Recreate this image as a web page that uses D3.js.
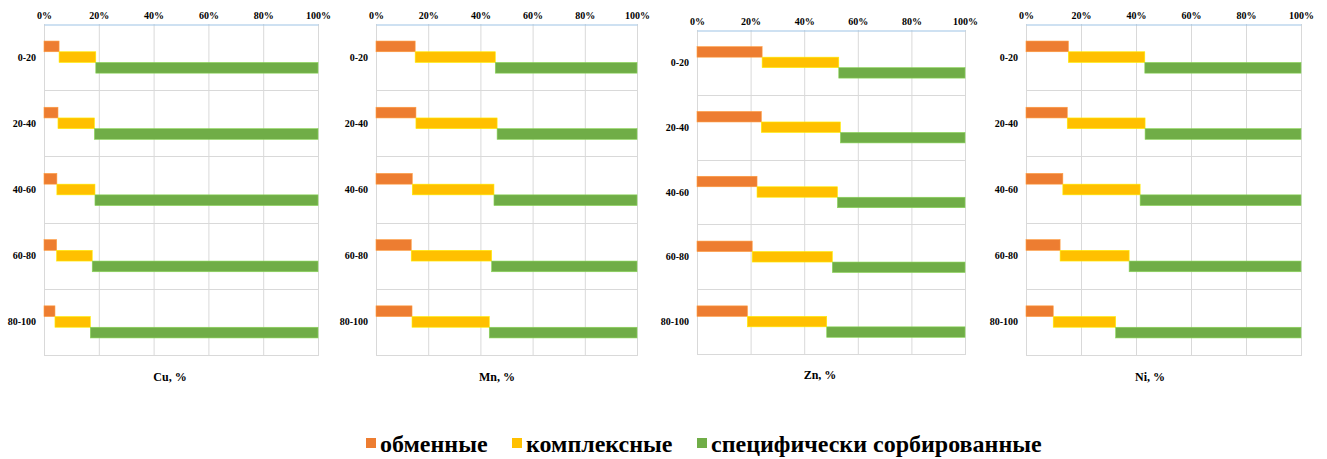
<!DOCTYPE html>
<html>
<head>
<meta charset="utf-8">
<script src="https://cdn.jsdelivr.net/npm/d3@7"></script>
</head>
<body style="margin:0; background:#fff">
<script>
  // depth intervals, cm
  const categories = ['0-20', '20-40', '40-60', '60-80', '80-100'];
  const seriesNames = ['обменные', 'комплексные', 'специфически сорбированные'];
  const seriesKeys = ['exch', 'complex', 'specific'];
  const colors = ['#ED7D31', '#FFC000', '#70AD47'];
  const tickValues = [0, 20, 40, 60, 80, 100];

  // shares of each form, %
  const cuExch = [5.5, 5.1, 4.7, 4.6, 4.0];
  const cuComplex = [13.4, 13.3, 13.9, 13.0, 12.9];
  const cuSpecific = [81.1, 81.6, 81.4, 82.4, 83.1];

  const mnExch = [15.0, 15.3, 13.9, 13.5, 13.8];
  const mnComplex = [30.7, 31.1, 31.3, 30.8, 29.6];
  const mnSpecific = [54.3, 53.6, 54.8, 55.7, 56.6];

  const znExch = [24.3, 24.0, 22.4, 20.6, 18.8];
  const znComplex = [28.6, 29.5, 30.0, 29.9, 29.6];
  const znSpecific = [47.1, 46.5, 47.6, 49.5, 51.6];

  const niExch = [15.4, 15.0, 13.4, 12.4, 9.9];
  const niComplex = [27.8, 28.3, 28.1, 25.1, 22.7];
  const niSpecific = [56.8, 56.7, 58.5, 62.5, 67.4];

  const elements = [
    { title: 'Cu, %', exch: cuExch, complex: cuComplex, specific: cuSpecific },
    { title: 'Mn, %', exch: mnExch, complex: mnComplex, specific: mnSpecific },
    { title: 'Zn, %', exch: znExch, complex: znComplex, specific: znSpecific },
    { title: 'Ni, %', exch: niExch, complex: niComplex, specific: niSpecific }
  ];

  // panel layout (plot areas)
  const panels = [
    { left: 44, right: 318, top: 24, bottom: 355, titleX: 170, titleY: 381 },
    { left: 376, right: 637, top: 24, bottom: 355, titleX: 497, titleY: 381 },
    { left: 697, right: 965, top: 30, bottom: 354, titleX: 820, titleY: 379 },
    { left: 1026, right: 1301, top: 24, bottom: 355, titleX: 1150, titleY: 381 }
  ];

  const svg = d3.select('body').append('svg')
    .attr('width', 1327)
    .attr('height', 459)
    .attr('font-family', 'Liberation Serif');

  const stack = d3.stack().keys(seriesKeys);

  elements.forEach((el, pi) => {
    const p = panels[pi];

    const rows = categories.map((c, i) => ({
      cat: c,
      exch: el.exch[i],
      complex: el.complex[i],
      specific: el.specific[i]
    }));
    const stacked = stack(rows);

    const x = d3.scaleLinear().domain([0, 100]).range([p.left, p.right]);
    const yRow = d3.scaleBand().domain(categories).range([p.top, p.bottom]);
    const yBar = d3.scaleBand().domain(categories)
      .range([p.top, p.bottom])
      .paddingInner(0.515)
      .paddingOuter(0.2575);
    const ySub = d3.scaleBand().domain(seriesKeys).range([0, yBar.bandwidth()]);

    const g = svg.append('g');

    // vertical gridlines
    g.append('g').selectAll('line')
      .data(tickValues)
      .join('line')
      .attr('x1', d => x(d) + 0.5)
      .attr('x2', d => x(d) + 0.5)
      .attr('y1', p.top)
      .attr('y2', p.bottom)
      .attr('stroke', '#d9d9d9')
      .attr('stroke-width', 1);

    // row separators
    g.append('g').selectAll('line')
      .data(categories)
      .join('line')
      .attr('x1', p.left)
      .attr('x2', p.right + 1)
      .attr('y1', d => Math.round(yRow(d) + yRow.bandwidth()) + 0.5)
      .attr('y2', d => Math.round(yRow(d) + yRow.bandwidth()) + 0.5)
      .attr('stroke', '#d9d9d9')
      .attr('stroke-width', 1);

    // bars
    stacked.forEach((s, si) => {
      g.append('g').selectAll('rect')
        .data(s)
        .join('rect')
        .attr('x', d => x(d[0]))
        .attr('width', d => x(d[1]) - x(d[0]))
        .attr('y', d => yBar(d.data.cat) + ySub(s.key))
        .attr('height', ySub.bandwidth())
        .attr('fill', colors[si])
        .attr('stroke', d3.color(colors[si]).brighter(0.6))
        .attr('stroke-width', 0.6);
    });

    // top axis
    const axis = d3.axisTop(x)
      .tickValues(tickValues)
      .tickFormat(d => d + '%')
      .tickSize(0)
      .tickPadding(6);
    const ax = g.append('g')
      .attr('transform', `translate(0, ${p.top + 0.5})`)
      .call(axis)
      .attr('font-family', 'Liberation Serif')
      .attr('font-size', 10);
    ax.select('.domain').attr('stroke', '#9DC3E6').attr('stroke-width', 1.2);

    // category labels
    g.append('g').selectAll('text')
      .data(categories)
      .join('text')
      .attr('x', p.left - 8)
      .attr('y', d => yRow(d) + yRow.bandwidth() / 2)
      .attr('dy', '0.35em')
      .attr('text-anchor', 'end')
      .style('font-size', '10px')
      .text(d => d);

    // axis title
    g.append('text')
      .attr('x', p.titleX)
      .attr('y', p.titleY)
      .attr('text-anchor', 'middle')
      .style('font-size', '12px')
      .text(el.title);
  });

  // legend
  const legendX = [366, 512, 697];
  const legend = svg.append('g');
  seriesNames.forEach((name, i) => {
    legend.append('rect')
      .attr('x', legendX[i])
      .attr('y', 438)
      .attr('width', 10)
      .attr('height', 10)
      .attr('fill', colors[i]);
    legend.append('text')
      .attr('x', legendX[i] + 14)
      .attr('y', 452)
      .style('font-size', '24px')
      .text(name);
  });

  svg.selectAll('text')
    .attr('font-family', 'Liberation Serif')
    .style('font-family', '"Liberation Serif"', 'important')
    .style('font-weight', 'bold')
    .style('fill', '#000');
</script>
</body>
</html>
